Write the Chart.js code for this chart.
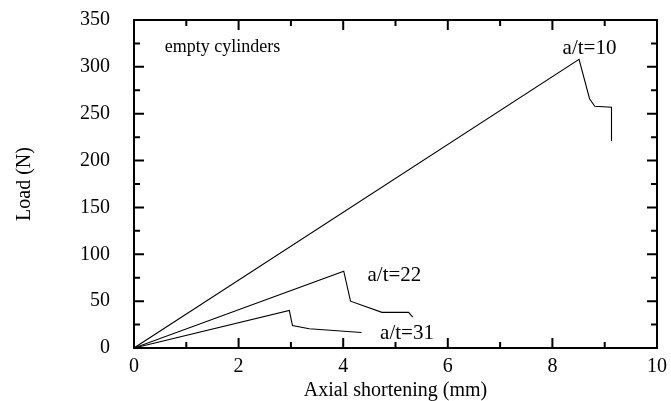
<!DOCTYPE html>
<html>
<head>
<meta charset="utf-8">
<script src="https://cdn.jsdelivr.net/npm/chart.js@4.4.1/dist/chart.umd.min.js"></script>
<style>
  html, body { margin: 0; padding: 0; background: #fff; }
  #wrap { width: 671px; height: 401px; }
</style>
</head>
<body>
<div id="wrap"><canvas id="myChart" width="671" height="401"></canvas></div>
<script>
// axial shortening (mm) / load (N)
const at10X = [0, 8.51, 8.71, 8.81, 9.13, 9.13];
const at10Y = [0, 308, 266, 258, 257, 221];
const at22X = [0, 4.01, 4.14, 4.74, 5.25, 5.33];
const at22Y = [0, 82, 50, 38, 38, 33];
const at31X = [0, 2.97, 3.03, 3.35, 3.75, 4.35];
const at31Y = [0, 40, 24, 20.5, 19, 16.5];

const xTicks = [0, 2, 4, 6, 8, 10];
const yTicks = [0, 50, 100, 150, 200, 250, 300, 350];

// labels placed in data units
const notes = [
    {text: "empty cylinders", x: 0.59, y: 321, size: 18, align: "left"},
    {text: "a/t=10", x: 8.71, y: 320, size: 21, align: "center"},
    {text: "a/t=22", x: 4.98, y: 77, size: 21, align: "center"},
    {text: "a/t=31", x: 5.22, y: 16, size: 21, align: "center"}
];

const serif = "'Liberation Serif', 'Times New Roman', serif";

function toPoints(xs, ys) {
    return xs.map((x, i) => ({x: x, y: ys[i]}));
}

function lineSet(xs, ys) {
    return {
        data: toPoints(xs, ys),
        showLine: true,
        borderColor: "#000",
        borderWidth: 1.1,
        pointRadius: 0,
        tension: 0,
        fill: false
    };
}

// frame with inward ticks on all four sides, plus the text notes
const framePlugin = {
    id: "frame",
    afterDraw(chart) {
        const ctx = chart.ctx;
        const a = chart.chartArea;
        const xs = chart.scales.x;
        const ys = chart.scales.y;
        ctx.save();
        ctx.strokeStyle = "#000";
        ctx.lineWidth = 2;
        ctx.strokeRect(a.left, a.top, a.right - a.left, a.bottom - a.top);

        for (let v = 0; v <= 10; v += 1) {
            const px = xs.getPixelForValue(v);
            const len = v % 2 === 0 ? 10 : 6;
            ctx.beginPath();
            ctx.moveTo(px, a.bottom); ctx.lineTo(px, a.bottom - len);
            ctx.moveTo(px, a.top); ctx.lineTo(px, a.top + len);
            ctx.stroke();
        }
        for (let v = 0; v <= 350; v += 25) {
            const py = ys.getPixelForValue(v);
            const len = v % 50 === 0 ? 10 : 6;
            ctx.beginPath();
            ctx.moveTo(a.left, py); ctx.lineTo(a.left + len, py);
            ctx.moveTo(a.right, py); ctx.lineTo(a.right - len, py);
            ctx.stroke();
        }

        ctx.fillStyle = "#000";
        ctx.textBaseline = "middle";
        notes.forEach(n => {
            ctx.font = n.size + "px " + serif;
            ctx.textAlign = n.align;
            ctx.fillText(n.text, xs.getPixelForValue(n.x), ys.getPixelForValue(n.y));
        });
        ctx.restore();
    }
};

new Chart("myChart", {
    type: "scatter",
    data: {
        datasets: [
            lineSet(at10X, at10Y),
            lineSet(at22X, at22Y),
            lineSet(at31X, at31Y)
        ]
    },
    options: {
        responsive: false,
        animation: false,
        events: [],
        layout: {padding: {left: 0, right: 14, top: 20, bottom: 0}},
        plugins: {
            legend: {display: false},
            tooltip: {enabled: false}
        },
        scales: {
            x: {
                type: "linear",
                min: 0,
                max: 10,
                afterFit(scale) {
                    scale.height = 53;
                    scale.paddingLeft = 0;
                    scale.paddingRight = 0;
                },
                afterBuildTicks(scale) { scale.ticks = xTicks.map(v => ({value: v})); },
                grid: {display: false, drawTicks: false},
                border: {display: false},
                ticks: {color: "#000", padding: 7, font: {family: serif, size: 20}},
                title: {
                    display: true,
                    text: "Axial shortening (mm)",
                    color: "#000",
                    padding: {top: 0, bottom: 0},
                    font: {family: serif, size: 20, lineHeight: 1}
                }
            },
            y: {
                type: "linear",
                min: 0,
                max: 350,
                afterFit(scale) {
                    scale.width = 134;
                    scale.paddingTop = 0;
                    scale.paddingBottom = 0;
                },
                afterBuildTicks(scale) { scale.ticks = yTicks.map(v => ({value: v})); },
                grid: {display: false, drawTicks: false},
                border: {display: false},
                ticks: {color: "#000", padding: 24, font: {family: serif, size: 20}},
                title: {
                    display: true,
                    text: "Load (N)",
                    color: "#000",
                    padding: {top: 15, bottom: 0},
                    font: {family: serif, size: 20, lineHeight: 1}
                }
            }
        }
    },
    plugins: [framePlugin]
});
</script>
</body>
</html>
